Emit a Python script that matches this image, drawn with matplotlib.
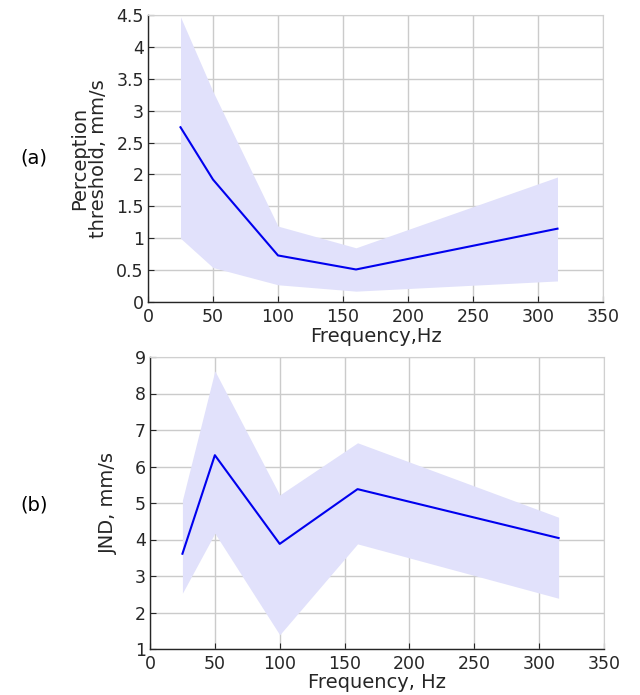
import matplotlib
matplotlib.use("Agg")
import matplotlib.pyplot as plt
import numpy as np

freq = [25, 50, 100, 160, 315]

# panel (a): perception threshold
thr_mean = [2.74, 1.92, 0.73, 0.51, 1.15]
thr_upper = [4.47, 3.30, 1.19, 0.85, 1.96]
thr_lower = [1.00, 0.54, 0.27, 0.17, 0.33]

# panel (b): JND
jnd_mean = [3.61, 6.31, 3.88, 5.38, 4.04]
jnd_upper = [5.08, 8.62, 5.22, 6.65, 4.61]
jnd_lower = [2.53, 4.17, 1.39, 3.88, 2.39]

xticks = [0, 50, 100, 150, 200, 250, 300, 350]
thr_yticks = [0, 0.5, 1, 1.5, 2, 2.5, 3, 3.5, 4, 4.5]
thr_ylabels = ["0", "0.5", "1", "1.5", "2", "2.5", "3", "3.5", "4", "4.5"]
jnd_yticks = [1, 2, 3, 4, 5, 6, 7, 8, 9]

plt.rcParams["font.family"] = "DejaVu Sans"

fig = plt.figure(figsize=(6.4, 6.95), dpi=100)
W, H = 640, 695
ax1 = fig.add_axes([148 / W, 1 - 302 / H, (603 - 148) / W, (302 - 15) / H])
ax2 = fig.add_axes([150 / W, 1 - 649 / H, (604 - 150) / W, (649 - 357) / H])

LBL = 14
TCK = 12.5


def style(ax):
    ax.set_xlim(0, 350)
    ax.set_xticks(xticks)
    ax.grid(True, color="#cbcbcb", linewidth=1.0)
    ax.set_axisbelow(True)
    for s in ["top", "right"]:
        ax.spines[s].set_color("#d0d0d0")
    for s in ["left", "bottom"]:
        ax.spines[s].set_color("#262626")
        ax.spines[s].set_linewidth(1.0)
    ax.tick_params(direction="in", length=4, labelsize=TCK, colors="#262626",
                   top=False, right=False)
    ax.tick_params(axis="x", pad=4)
    ax.tick_params(axis="y", pad=3)


ax1.fill_between(freq, thr_lower, thr_upper, color="#e1e1fb", linewidth=0)
ax1.plot(freq, thr_mean, color="#0000ee", linewidth=1.5)
style(ax1)
ax1.set_ylim(0, 4.5)
ax1.set_yticks(thr_yticks)
ax1.set_yticklabels(thr_ylabels)
ax1.set_xlabel("Frequency,Hz", fontsize=LBL, color="#262626", labelpad=1)
ax1.set_ylabel("Perception\nthreshold, mm/s", fontsize=LBL, color="#262626",
               labelpad=6, linespacing=1.0)

ax2.fill_between(freq, jnd_lower, jnd_upper, color="#e1e1fb", linewidth=0)
ax2.plot(freq, jnd_mean, color="#0000ee", linewidth=1.5)
style(ax2)
ax2.set_ylim(1, 9)
ax2.set_yticks(jnd_yticks)
ax2.set_xlabel("Frequency, Hz", fontsize=LBL, color="#262626", labelpad=0)
ax2.set_ylabel("JND, mm/s", fontsize=LBL, color="#262626", labelpad=12)

fig.text(34 / W, 1 - 158 / H, "(a)", fontsize=LBL, ha="center", va="center")
fig.text(34 / W, 1 - 505 / H, "(b)", fontsize=LBL, ha="center", va="center")

fig.savefig("out.png", dpi=100)
